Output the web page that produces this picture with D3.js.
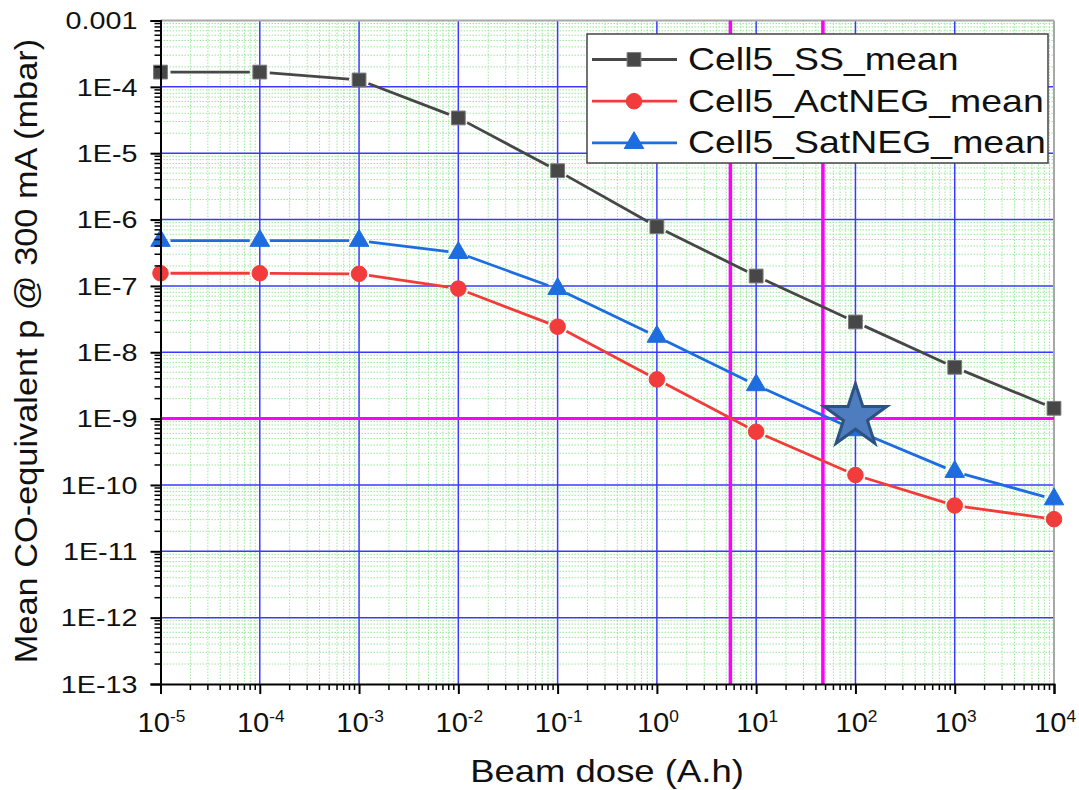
<!DOCTYPE html>
<html>
<head>
<meta charset="utf-8">
<script src="https://cdn.jsdelivr.net/npm/d3@7"></script>
<style>
  html, body { margin: 0; padding: 0; background: #fff; }
  svg { display: block; font-family: "Liberation Sans", Arial, sans-serif; }
</style>
</head>
<body>
<svg id="chart" width="1079" height="790"></svg>
<script>
// Beam dose (A.h) at which each series was evaluated
const doses = [1e-5, 1e-4, 1e-3, 1e-2, 1e-1, 1e0, 1e1, 1e2, 1e3, 1e4];

// Mean CO-equivalent pressure @ 300 mA (mbar)
const ssMean     = [1.67e-4, 1.67e-4, 1.27e-4, 3.4e-5, 5.45e-6, 7.8e-7, 1.41e-7, 2.86e-8, 5.93e-9, 1.43e-9];
const actNegMean = [1.55e-7, 1.55e-7, 1.52e-7, 9.1e-8, 2.43e-8, 3.9e-9, 6.35e-10, 1.41e-10, 4.9e-11, 3.05e-11];
const satNegMean = [4.8e-7, 4.8e-7, 4.8e-7, 3.15e-7, 9.0e-8, 1.72e-8, 3.2e-9, 6.7e-10, 1.58e-10, 6.1e-11];

const seriesNames = ["Cell5_SS_mean", "Cell5_ActNEG_mean", "Cell5_SatNEG_mean"];

// Axis ticks
const xTickExponents = [-5, -4, -3, -2, -1, 0, 1, 2, 3, 4];
const yTickValues = [1e-3, 1e-4, 1e-5, 1e-6, 1e-7, 1e-8, 1e-9, 1e-10, 1e-11, 1e-12, 1e-13];
const yTickLabels = ["0.001", "1E-4", "1E-5", "1E-6", "1E-7", "1E-8", "1E-9", "1E-10", "1E-11", "1E-12", "1E-13"];

// Reference markers: pressure target and dose limits, plus the target point
const targetPressure = 1e-9;
const doseLimits = [5.5, 47];
const targetPoint = { dose: 100, p: 1e-9 };

const svg = d3.select("#chart");
const plotLeft = 160.5, plotRight = 1054, plotTop = 20.5, plotBottom = 684;
const ink = "#111";

const x = d3.scaleLog().domain([1e-5, 1e4]).range([plotLeft, plotRight]);
const y = d3.scaleLog().domain([1e-13, 1e-3]).range([plotBottom, plotTop]);

// minor tick values (2..9 within each decade)
const minorX = [], minorY = [];
for (let e = -5; e < 4; e++) for (let k = 2; k <= 9; k++) minorX.push(k * Math.pow(10, e));
for (let e = -13; e < -3; e++) for (let k = 2; k <= 9; k++) minorY.push(k * Math.pow(10, e));

const grid = svg.append("g");
// minor grid: dotted light green
grid.selectAll(".mx").data(minorX).join("line")
  .attr("x1", d => x(d)).attr("x2", d => x(d)).attr("y1", plotTop).attr("y2", plotBottom)
  .attr("stroke", "#9be89b").attr("stroke-width", 1).attr("stroke-dasharray", "1.5,1.5");
grid.selectAll(".my").data(minorY).join("line")
  .attr("y1", d => y(d)).attr("y2", d => y(d)).attr("x1", plotLeft).attr("x2", plotRight)
  .attr("stroke", "#9be89b").attr("stroke-width", 1).attr("stroke-dasharray", "1.5,1.5");
// major grid: blue
grid.selectAll(".Mx").data(doses.slice(1, -1)).join("line")
  .attr("x1", d => x(d)).attr("x2", d => x(d)).attr("y1", plotTop).attr("y2", plotBottom)
  .attr("stroke", "#3a3aff").attr("stroke-width", 1.5);
grid.selectAll(".My").data(yTickValues.slice(1, -1)).join("line")
  .attr("y1", d => y(d)).attr("y2", d => y(d)).attr("x1", plotLeft).attr("x2", plotRight)
  .attr("stroke", "#3a3aff").attr("stroke-width", 1.5);

// frame: top and right in gray
svg.append("line").attr("x1", plotLeft).attr("x2", plotRight).attr("y1", plotTop).attr("y2", plotTop)
  .attr("stroke", "#a8a8a8").attr("stroke-width", 2);
svg.append("line").attr("x1", plotRight).attr("x2", plotRight).attr("y1", plotTop).attr("y2", plotBottom)
  .attr("stroke", "#a8a8a8").attr("stroke-width", 2);

// magenta reference lines
svg.append("line").attr("x1", plotLeft).attr("x2", plotRight)
  .attr("y1", y(targetPressure)).attr("y2", y(targetPressure))
  .attr("stroke", "#ff00ff").attr("stroke-width", 3);
svg.selectAll(".lim").data(doseLimits).join("line")
  .attr("x1", d => x(d)).attr("x2", d => x(d)).attr("y1", plotTop).attr("y2", plotBottom)
  .attr("stroke", "#ff00ff").attr("stroke-width", 3.5);

// series
const series = [
  { name: seriesNames[0], values: ssMean, color: "#474747", fill: "#474747", stroke: "#7a7a7a", symbol: d3.symbolSquare, size: 190 },
  { name: seriesNames[1], values: actNegMean, color: "#f23c3c", fill: "#f23c3c", stroke: "#f23c3c", symbol: d3.symbolCircle, size: 190 },
  { name: seriesNames[2], values: satNegMean, color: "#1d6ce0", fill: "#1d6ce0", stroke: "#1d6ce0", symbol: d3.symbolTriangle, size: 165 }
];

const gap = 10; // line is interrupted around each marker
series.forEach(s => {
  const pts = doses.map((d, i) => [x(d), y(s.values[i])]);
  const segs = [];
  for (let i = 0; i < pts.length - 1; i++) {
    const [x1, y1] = pts[i], [x2, y2] = pts[i + 1];
    const len = Math.hypot(x2 - x1, y2 - y1);
    if (len <= 2 * gap) continue;
    const ux = (x2 - x1) / len, uy = (y2 - y1) / len;
    segs.push([x1 + ux * gap, y1 + uy * gap, x2 - ux * gap, y2 - uy * gap]);
  }
  const g = svg.append("g");
  g.selectAll("line").data(segs).join("line")
    .attr("x1", d => d[0]).attr("y1", d => d[1]).attr("x2", d => d[2]).attr("y2", d => d[3])
    .attr("stroke", s.color).attr("stroke-width", 2.8);
  g.selectAll("path").data(pts).join("path")
    .attr("transform", d => `translate(${d[0]},${d[1]})`)
    .attr("d", d3.symbol(s.symbol, s.size))
    .attr("fill", s.fill).attr("stroke", s.stroke).attr("stroke-width", 1);
});

// target star
svg.append("path")
  .attr("transform", `translate(${x(targetPoint.dose)},${y(targetPoint.p) - 2})`)
  .attr("d", d3.symbol(d3.symbolStar, 1220))
  .attr("fill", "#4d7dbf").attr("stroke", "#2c5284").attr("stroke-width", 3).attr("stroke-linejoin", "miter");

// axes
const yAxis = d3.axisLeft(y).tickValues(yTickValues)
  .tickFormat((d, i) => yTickLabels[i]).tickSize(10).tickPadding(13);
const gy = svg.append("g").attr("transform", `translate(${plotLeft},0)`).call(yAxis);
gy.selectAll(".minor").data(minorY).join("line").attr("class", "minor")
  .attr("x1", 0).attr("x2", -6).attr("y1", d => y(d)).attr("y2", d => y(d))
  .attr("stroke", "#000").attr("stroke-width", 1.5);

const xAxis = d3.axisBottom(x).tickValues(doses).tickFormat(() => "").tickSize(10);
const gx = svg.append("g").attr("transform", `translate(0,${plotBottom})`).call(xAxis);
gx.selectAll(".minor").data(minorX).join("line").attr("class", "minor")
  .attr("y1", 0).attr("y2", 6).attr("x1", d => x(d)).attr("x2", d => x(d))
  .attr("stroke", "#000").attr("stroke-width", 1.5);

[gx, gy].forEach(g => {
  g.select(".domain").attr("stroke", "#000").attr("stroke-width", 2);
  g.selectAll(".tick line").attr("stroke", "#000").attr("stroke-width", 2);
});
// y tick labels: slightly wide lettering
gy.selectAll(".tick text")
  .attr("font-size", 23).attr("fill", ink)
  .attr("font-family", "Liberation Sans, Arial, sans-serif")
  .attr("x", 0).attr("dy", "0.36em")
  .attr("transform", "translate(-23,0) scale(1.25,1)");

// x tick labels as powers of ten
const xl = svg.append("g");
xTickExponents.forEach((e, i) => {
  const t = xl.append("text")
    .attr("transform", `translate(${x(doses[i]) + 1},${plotBottom + 48}) scale(1.08,1)`)
    .attr("text-anchor", "middle").attr("font-size", 27).attr("fill", ink);
  t.append("tspan").text("10");
  t.append("tspan").attr("dy", -10.5).attr("font-size", 16).text(e);
});

// axis titles
svg.append("text").attr("transform", "translate(607,782) scale(1.14,1)").attr("text-anchor", "middle")
  .attr("font-size", 32).attr("fill", ink).text("Beam dose (A.h)");
svg.append("text").attr("transform", `translate(37,351) rotate(-90) scale(1.09,1)`)
  .attr("text-anchor", "middle").attr("font-size", 31.5).attr("fill", ink)
  .text("Mean CO-equivalent p @ 300 mA (mbar)");

// legend
const lg = svg.append("g").attr("transform", "translate(587,34)");
lg.append("rect").attr("width", 461).attr("height", 129)
  .attr("fill", "#fff").attr("stroke", "#444").attr("stroke-width", 1.5);
series.forEach((s, i) => {
  const base = 36 + i * 41.7;
  const cy = base - 10.5;
  lg.append("line").attr("x1", 5).attr("x2", 90).attr("y1", cy).attr("y2", cy)
    .attr("stroke", s.color).attr("stroke-width", 2.8);
  lg.append("path").attr("transform", `translate(47,${cy})`)
    .attr("d", d3.symbol(s.symbol, s.size))
    .attr("fill", s.fill).attr("stroke", s.stroke).attr("stroke-width", 1);
  lg.append("text").attr("transform", `translate(101,${base}) scale(1.17,1)`)
    .attr("font-size", 32).attr("fill", ink).text(s.name);
});
</script>
</body>
</html>
